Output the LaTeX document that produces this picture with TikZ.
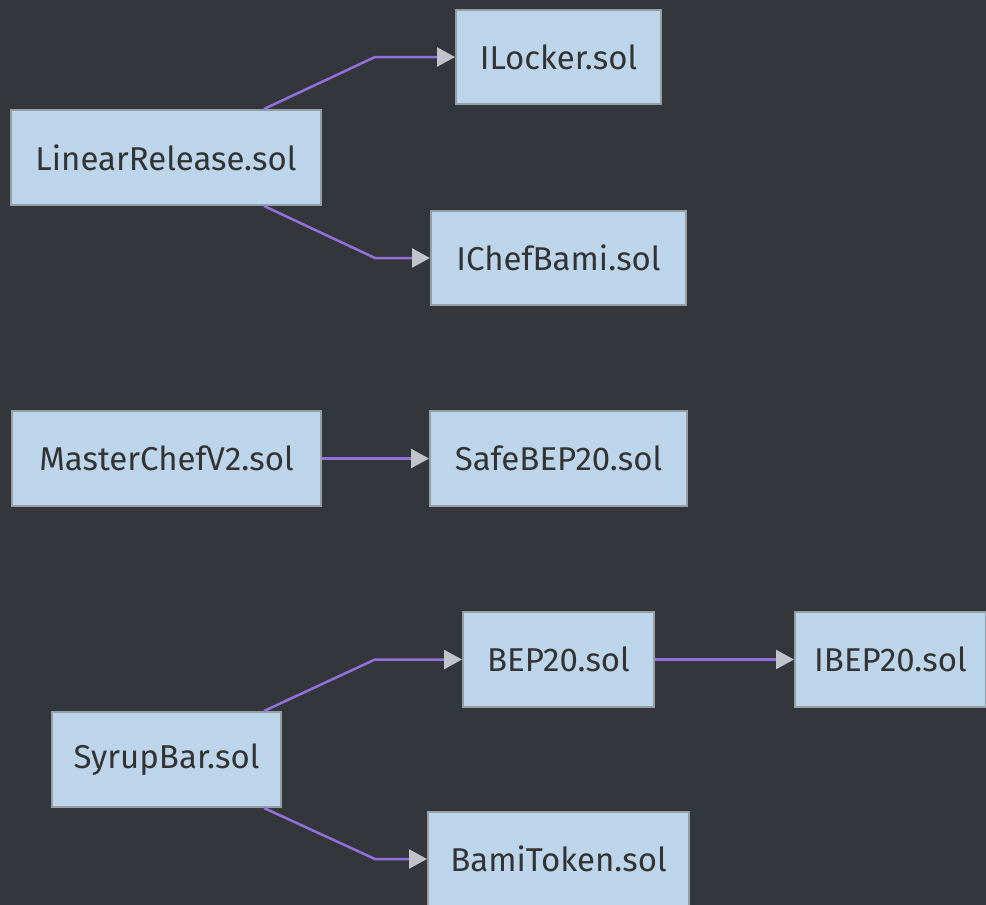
\documentclass[tikz,border=0pt]{standalone}
\usepackage{fontspec}
\setmainfont{Fira Sans}
\usetikzlibrary{arrows.meta}
\definecolor{bgc}{RGB}{51,55,60}
\definecolor{boxfill}{RGB}{189,213,234}
\definecolor{boxline}{RGB}{150,158,166}
\definecolor{edgec}{RGB}{147,112,219}
\definecolor{tipc}{RGB}{192,196,202}
\definecolor{txt}{RGB}{51,51,51}
\tikzset{
  file/.style={draw=boxline, line width=2pt, fill=boxfill, text=txt,
    inner sep=0pt, font=\fontsize{33}{38}\selectfont, anchor=center},
  edge/.style={edgec, line width=2.5pt,
    -{Triangle[length=18pt,width=19pt,color=tipc]}},
}
\begin{document}
\begin{tikzpicture}[x=1pt,y=-1pt]
  \fill[bgc] (0,0) rectangle (986,905);
  \useasboundingbox (0,0) rectangle (986,905);

  % files
  \node[file, minimum width=310pt, minimum height=95pt] (lr) at (166,157.5) {LinearRelease.sol};
  \node[file, minimum width=205pt, minimum height=94pt] (il) at (558.5,57) {ILocker.sol};
  \node[file, minimum width=255pt, minimum height=94pt] (icb) at (558.5,258) {IChefBami.sol};
  \node[file, minimum width=309pt, minimum height=95pt] (mc) at (166.5,458.5) {MasterChefV2.sol};
  \node[file, minimum width=257pt, minimum height=95pt] (sb) at (558.5,458.5) {SafeBEP20.sol};
  \node[file, minimum width=191pt, minimum height=95pt] (bep) at (558.5,659.5) {BEP20.sol};
  \node[file, minimum width=191pt, minimum height=95pt] (ibep) at (890.5,659.5) {IBEP20.sol};
  \node[file, minimum width=229pt, minimum height=95pt] (syr) at (166.5,759.5) {SyrupBar.sol};
  \node[file, minimum width=261pt, minimum height=94pt] (bt) at (558.5,859) {BamiToken.sol};

  % bend points
  \coordinate (k1) at (375,57);
  \coordinate (k2) at (375,258);
  \coordinate (k3) at (375,659.5);
  \coordinate (k4) at (375,859);

  % dependencies
  \draw[edge] ([xshift=-58pt]lr.north east) -- (k1) -- (il.west);
  \draw[edge] ([xshift=-58pt]lr.south east) -- (k2) -- (icb.west);
  \draw[edge] (mc.east) -- (sb.west);
  \draw[edge] ([xshift=-18pt]syr.north east) -- (k3) -- (bep.west);
  \draw[edge] ([xshift=-18pt]syr.south east) -- (k4) -- (bt.west);
  \draw[edge] (bep.east) -- (ibep.west);
\end{tikzpicture}
\end{document}
